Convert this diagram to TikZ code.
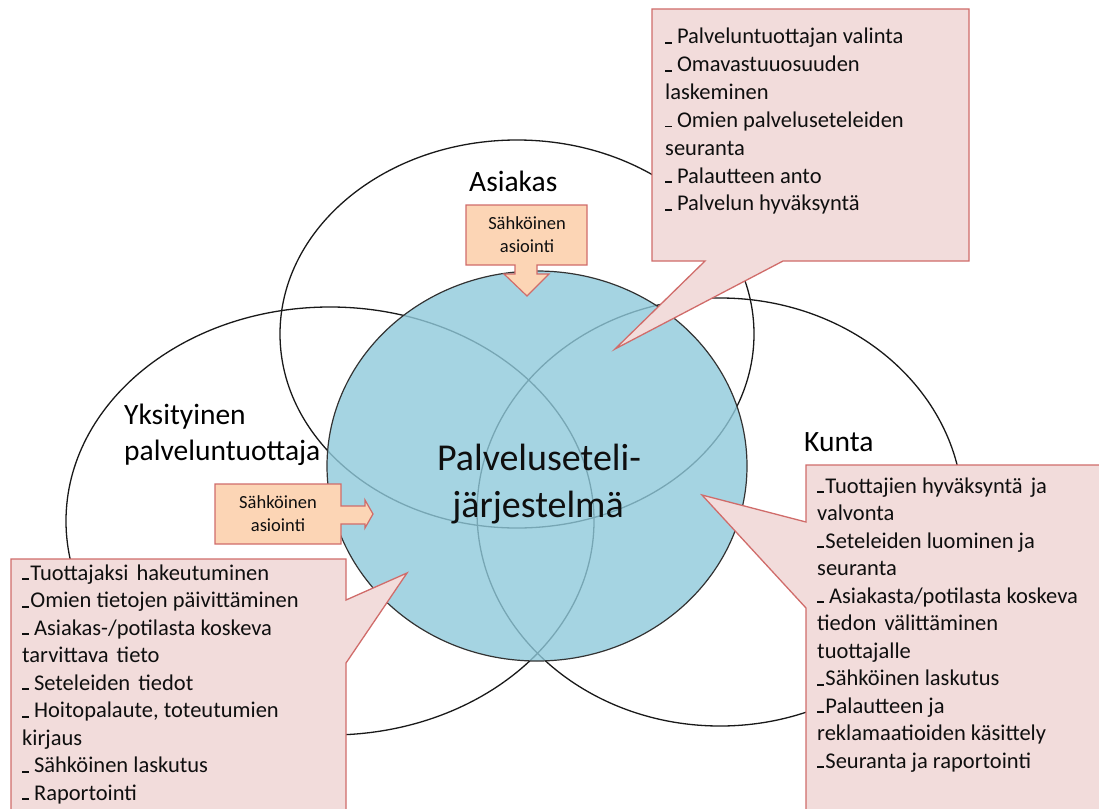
\documentclass[tikz,border=0pt]{standalone}
\usepackage{fontspec}
\setmainfont{Carlito}
\newcommand{\mydash}{\rule{0.3em}{0.07em}}
\definecolor{pinkfill}{RGB}{242,220,219}
\definecolor{redline}{RGB}{208,108,106}
\definecolor{orfill}{RGB}{252,213,181}
\definecolor{bluefill}{RGB}{143,202,219}
\definecolor{txt}{RGB}{15,15,15}
\tikzset{
  ell/.style={draw=black!90, line width=1.3pt},
  calloutshape/.style={fill=pinkfill, draw=redline, line width=1.3pt, line join=miter},
  orarrow/.style={fill=orfill, draw=redline, line width=1.2pt, line join=miter},
  cltext/.style={font=\fontsize{22.5}{27}\selectfont, text=txt, inner sep=0pt, anchor=base west},
  lbl/.style={font=\fontsize{29.5}{36}\selectfont, text=black, inner sep=0pt, anchor=base west},
  ortext/.style={font=\fontsize{18.5}{23}\selectfont, text=txt, inner sep=0pt, anchor=base},
  centertext/.style={font=\fontsize{38}{47}\selectfont, text=txt, inner sep=0pt, anchor=base},
}
\begin{document}
\begin{tikzpicture}[x=1pt, y=-1pt]
\useasboundingbox (0,0) rectangle (1099,808);
\clip (0,0) rectangle (1099,808);
\fill[white] (0,0) rectangle (1099,808);

% three ellipses
\draw[ell] (517,334) ellipse [x radius=237pt, y radius=194pt];
\draw[ell] (330,521) ellipse [x radius=264pt, y radius=214pt];
\draw[ell] (720,512) ellipse [x radius=243pt, y radius=214pt];

% central system circle
\fill[bluefill, fill opacity=0.8] (537,466) ellipse [x radius=210pt, y radius=195pt];
\draw[black!80, line width=1.2pt] (537,466) ellipse [x radius=210pt, y radius=195pt];

% labels
\node[lbl] (asiakas) at (469,191) {Asiakas};
\node[lbl] (yks1) at (124,424) {Yksityinen};
\node[lbl] (yks2) at (124,460) {palveluntuottaja};
\node[lbl] (kunta) at (804,451) {Kunta};
\node[centertext] (sys1) at (539,470) {Palveluseteli-};
\node[centertext] (sys2) at (538,517) {järjestelmä};

% orange arrow callouts
\draw[orarrow] (466,205) -- (587,205) -- (587,265) -- (537,265) -- (537,274) -- (549,274)
  -- (527,296) -- (504,274) -- (515,274) -- (515,265) -- (466,265) -- cycle;
\node[ortext] (oa1) at (527,229) {Sähköinen};
\node[ortext] (oa2) at (527,252) {asiointi};

\draw[orarrow] (215,484) -- (341,484) -- (341,506) -- (365,506) -- (365,500) -- (373,514)
  -- (365,528) -- (365,524) -- (341,524) -- (341,544) -- (215,544) -- cycle;
\node[ortext] (ob1) at (278,508) {Sähköinen};
\node[ortext] (ob2) at (278,531) {asiointi};

% top-right callout (Asiakas)
\draw[calloutshape] (652,9) -- (969,9) -- (969,261) -- (783,261) -- (615,349) -- (705,261)
  -- (652,261) -- cycle;
\foreach \t [count=\i] in {
  {\mydash\ Palveluntuottajan valinta},
  {\mydash\ Omavastuuosuuden},
  {laskeminen},
  {\mydash\ Omien palveluseteleiden},
  {seuranta},
  {\mydash\ Palautteen anto},
  {\mydash\ Palvelun hyväksyntä}}
  \node[cltext] (tr\i) at (665,{44+27.8*(\i-1)}) {\t};

% right callout (Kunta)
\draw[calloutshape] (806,465) -- (1115,465) -- (1115,825) -- (806,825) -- (806,608)
  -- (702,495) -- (806,522) -- cycle;
\foreach \t [count=\i] in {
  {\mydash\kern1.5pt Tuottajien hyväksyntä\kern3pt\ ja},
  {valvonta},
  {\mydash\kern1.5pt Seteleiden luominen ja},
  {seuranta},
  {\mydash\ Asiakasta/potilasta koskeva},
  {tiedon\kern3pt\ välittäminen},
  {tuottajalle},
  {\mydash\kern1.5pt Sähköinen laskutus},
  {\mydash\kern1.5pt Palautteen ja},
  {reklamaatioiden käsittely},
  {\mydash\kern1.5pt Seuranta ja raportointi}}
  \node[cltext] (kr\i) at (817,{493+27.5*(\i-1)}) {\t};

% left callout (Yksityinen palveluntuottaja)
\draw[calloutshape] (11,559) -- (346,559) -- (346,600) -- (407,573) -- (346,663)
  -- (346,825) -- (11,825) -- cycle;
\foreach \t [count=\i] in {
  {\mydash\kern1.5pt Tuottajaksi\kern3pt\ hakeutuminen},
  {\mydash\kern1.5pt Omien tietojen päivittäminen},
  {\mydash\ Asiakas-/potilasta koskeva},
  {tarvittava\kern3pt\ tieto},
  {\mydash\ Seteleiden\kern3pt\ tiedot},
  {\mydash\ Hoitopalaute, toteutumien},
  {kirjaus},
  {\mydash\ Sähköinen laskutus},
  {\mydash\ Raportointi}}
  \node[cltext] (yl\i) at (22,{580+27.5*(\i-1)}) {\t};
\end{tikzpicture}
\end{document}
